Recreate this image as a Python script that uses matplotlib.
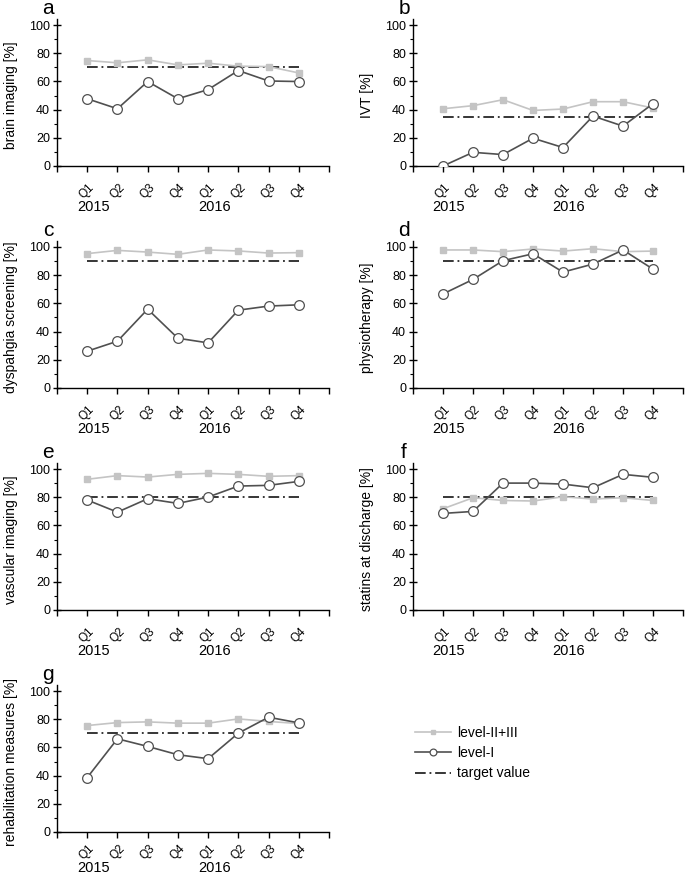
import matplotlib.pyplot as plt
from matplotlib.ticker import MultipleLocator

plt.rcParams['font.family'] = ['Liberation Sans', 'DejaVu Sans']

quarters = ['Q1', 'Q2', 'Q3', 'Q4', 'Q1', 'Q2', 'Q3', 'Q4']
years = ['2015', '2016']
panel_letters = ['a', 'b', 'c', 'd', 'e', 'f', 'g']
ylabels = ['brain imaging [%]', 'IVT [%]', 'dyspahgia screening [%]',
           'physiotherapy [%]', 'vascular imaging [%]',
           'statins at discharge [%]', 'rehabilitation measures [%]']

level23 = [
    [74.8, 73.2, 75.3, 71.7, 72.9, 70.8, 70.5, 66.0],
    [40.6, 42.8, 47.0, 39.4, 40.4, 45.6, 45.6, 41.1],
    [95.3, 97.6, 96.4, 94.8, 97.9, 97.2, 95.7, 96.0],
    [97.9, 97.9, 96.7, 98.6, 97.1, 98.8, 96.7, 97.1],
    [92.7, 95.3, 94.3, 96.2, 96.9, 96.2, 94.8, 95.3],
    [71.8, 79.6, 77.7, 77.3, 80.3, 78.7, 79.6, 77.7],
    [75.5, 77.6, 78.1, 77.2, 77.2, 80.2, 78.4, 76.9],
]
level1 = [
    [47.7, 40.6, 59.9, 47.7, 54.2, 67.7, 60.3, 59.9],
    [0.0, 9.7, 8.1, 19.7, 13.1, 35.4, 28.3, 44.2],
    [26.1, 33.2, 55.9, 35.3, 32.0, 55.2, 58.1, 59.0],
    [66.7, 77.0, 90.3, 95.2, 82.2, 87.9, 97.9, 84.3],
    [78.0, 69.4, 78.9, 75.6, 80.1, 87.9, 88.4, 91.2],
    [68.5, 69.9, 90.0, 90.0, 89.3, 86.7, 96.2, 94.1],
    [38.6, 66.1, 60.7, 54.8, 52.0, 70.1, 81.4, 77.4],
]
targets = [70, 35, 90, 90, 80, 80, 70]

W, H = 685, 876
fig = plt.figure(figsize=(W / 100, H / 100), dpi=100)

# pixel layout: left spine x, axis width, y of value 0 per row
col_x = [57, 413]
col_w = [272, 270]
row_y0 = [166, 388, 610, 832]
year_gap = [41, 41, 41, 36]
qpad = [7, 7, 7, 3.5]
px_per_unit = 1.41
ytop = 104

light = '#c4c4c4'
dark = '#505050'
x = list(range(len(quarters)))

for i in range(7):
    r, c = divmod(i, 2)
    h = ytop * px_per_unit
    ax = fig.add_axes([col_x[c] / W, 1 - row_y0[r] / H, col_w[c] / W, h / H])

    ax.plot(x, level23[i], color=light, lw=1.2, marker='s', ms=4.8,
            mfc=light, mec=light, label='level-II+III', zorder=2)
    ax.plot(x, level1[i], color=dark, lw=1.2, marker='o', ms=7,
            mfc='white', mec=dark, mew=0.9, label='level-I', zorder=3)
    ax.plot([x[0], x[-1]], [targets[i]] * 2, color='black', lw=1.1,
            ls=(0, (7, 2.5, 1.2, 2.5)), label='target value', zorder=1)

    ax.set_xlim(-1, 8)
    ax.set_ylim(0, ytop)
    ax.set_xticks(range(-1, 9))
    ax.set_xticklabels([''] + quarters + [''], rotation=45, fontsize=8.5)
    ax.tick_params(axis='x', direction='out', length=4, pad=qpad[r], width=1)
    ax.set_yticks(range(0, 101, 20))
    ax.yaxis.set_minor_locator(MultipleLocator(10))
    ax.tick_params(axis='y', which='major', direction='inout', length=6,
                   width=1, labelsize=9, pad=2)
    ax.tick_params(axis='y', which='minor', direction='out', length=2.5, width=0.8)
    for s in ['top', 'right']:
        ax.spines[s].set_visible(False)
    for s in ['left', 'bottom']:
        ax.spines[s].set_linewidth(1)

    ax.set_ylabel(ylabels[i], fontsize=10)
    ax.yaxis.set_label_coords(-0.145, 100 / ytop / 2)

    for yr, xpos in zip(years, [0.2, 4.2]):
        ax.text(xpos, -year_gap[r] / h, yr, transform=ax.get_xaxis_transform(),
                ha='center', va='center', fontsize=10.5)

    ax.text(-9 / col_w[c], 1 + 5 / h, panel_letters[i],
            transform=ax.transAxes, ha='center', va='baseline', fontsize=15)

    if i == 6:
        handles, labels = ax.get_legend_handles_labels()

fig.legend(handles, labels, loc='upper left', frameon=False,
           bbox_to_anchor=(415 / W, 1 - 726 / H), fontsize=10,
           handlelength=2.6, handletextpad=0.4, labelspacing=0.45,
           borderpad=0, borderaxespad=0, markerscale=0.7)

fig.savefig('out.png', dpi=100)
